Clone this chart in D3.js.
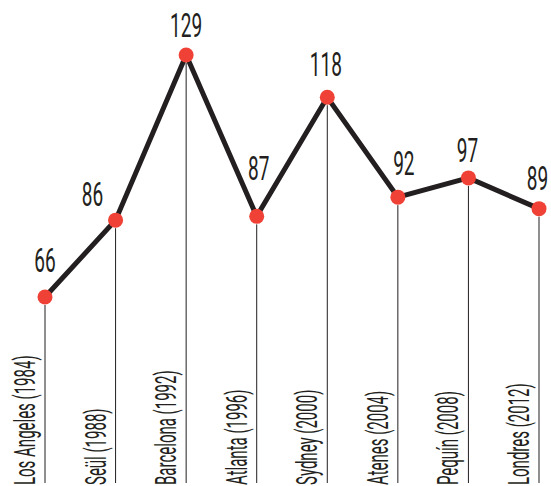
<!DOCTYPE html>
<html><head><meta charset="utf-8">
<script src="https://cdn.jsdelivr.net/npm/d3@7"></script>
<style>html,body{margin:0;padding:0;background:#fff;}svg{display:block;}</style>
</head><body>
<script>
const categories = ["Los Angeles (1984)","Seül (1988)","Barcelona (1992)","Atlanta (1996)","Sydney (2000)","Atenes (2004)","Pequín (2008)","Londres (2012)"];
const values = [66, 86, 129, 87, 118, 92, 97, 89];
// label nudges (layout only)
const labelDx = [0, -23, 0, 2, -1.5, 6, -1, -1.5];
const labelDy = [25.5, 14, 18, 36, 21, 22, 16, 19];

const W = 551, H = 486;
const svg = d3.select("body").append("svg").attr("width", W).attr("height", H);
const x = d3.scalePoint().domain(categories).range([45, 539]);
const y = d3.scaleLinear().domain([66, 129]).range([297, 55]);
const bottom = 485;
const FONT = "Roboto, 'DejaVu Sans', sans-serif";
const INK = "#231f20";

// drop lines
svg.selectAll("line.drop").data(categories).join("line")
  .attr("x1", d => x(d)).attr("x2", d => x(d))
  .attr("y1", (d,i) => y(values[i]) + 8).attr("y2", 483)
  .attr("stroke", INK).attr("stroke-width", 1);

// line
const line = d3.line().x((d,i) => x(categories[i])).y(d => y(d));
svg.append("path").datum(values).attr("d", line)
  .attr("fill", "none").attr("stroke", INK).attr("stroke-width", 5).attr("stroke-linejoin", "miter");

// dots
svg.selectAll("circle").data(values).join("circle")
  .attr("cx", (d,i) => x(categories[i])).attr("cy", d => y(d)).attr("r", 7.5)
  .attr("fill", "#ef4136");

// value labels
svg.selectAll("text.val").data(values).join("text")
  .attr("transform", (d,i) => `translate(${x(categories[i]) + labelDx[i]},${y(d) - labelDy[i]}) scale(0.56,1)`)
  .attr("text-anchor", "middle").attr("font-family", FONT).attr("font-weight", 400).attr("font-size", 34)
  .attr("fill", INK).text(d => d);

// category labels
svg.selectAll("text.cat").data(categories).join("text")
  .attr("transform", d => `translate(${x(d) - 10},${bottom}) rotate(-90) scale(0.5,1)`)
  .attr("text-anchor", "start").attr("font-family", FONT).attr("font-weight", 400).attr("font-size", 30)
  .attr("fill", INK).text(d => d);
</script>
</body></html>
